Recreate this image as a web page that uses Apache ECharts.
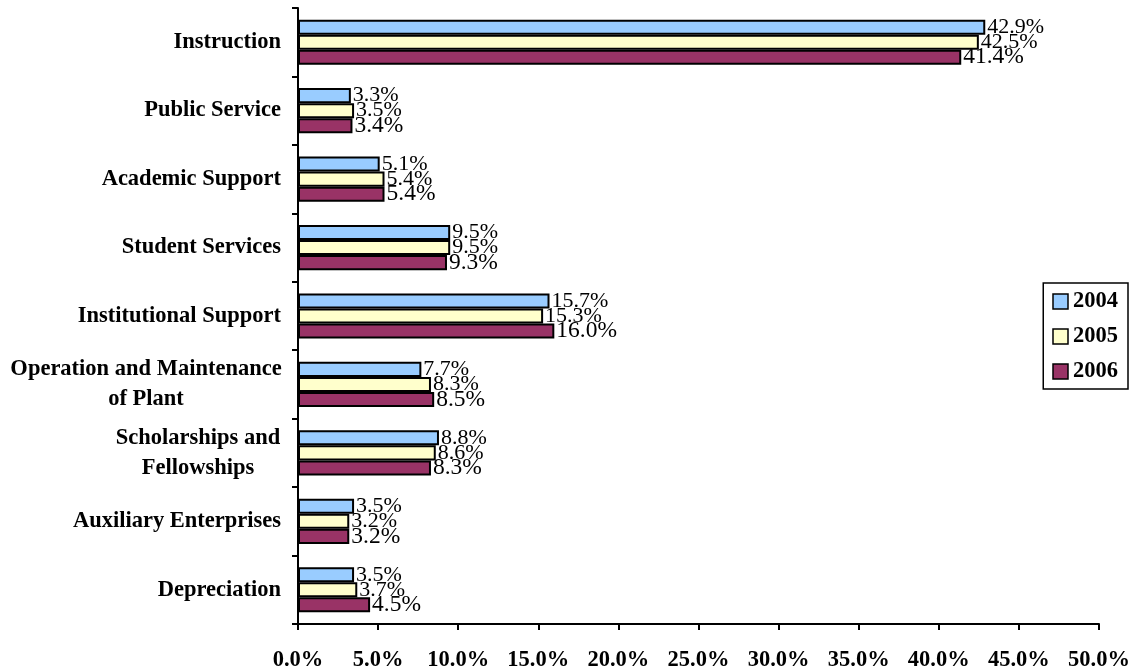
<!DOCTYPE html>
<html><head><meta charset="utf-8">
<script src="https://cdn.jsdelivr.net/npm/echarts@6/dist/echarts.min.js"></script>
<style>html,body{margin:0;padding:0;background:#fff}#c{width:1134px;height:672px}</style>
</head><body><div id="c"></div>
<script>
const categories = ['Instruction','Public Service','Academic Support','Student Services','Institutional Support','Operation and Maintenance\nof Plant','Scholarships and\nFellowships','Auxiliary Enterprises','Depreciation'];
const years = ['2004','2005','2006'];
const v2004 = [42.9, 3.3, 5.1, 9.5, 15.7, 7.7, 8.8, 3.5, 3.5];
const v2005 = [42.5, 3.5, 5.4, 9.5, 15.3, 8.3, 8.6, 3.2, 3.7];
const v2006 = [41.4, 3.4, 5.4, 9.3, 16.0, 8.5, 8.3, 3.2, 4.5];
const xTicks = [0,5,10,15,20,25,30,35,40,45,50];

const colors = ['#99CCFF','#FFFFCC','#993366'];
const serif = '"Liberation Serif","Times New Roman",serif';
const labelSizes = [22,22,23.5];
const catSize = 22.5;

function mk(name, data, i){
  return {
    name, type:'bar', data,
    barGap:'0%', barCategoryGap:'34%',
    itemStyle:{color:colors[i], borderColor:'#000', borderWidth:2},
    label:{show:true, position:'right', distance:2, color:'#000', fontFamily:serif, fontSize:labelSizes[i],
      formatter:p=>p.value.toFixed(1)+'%'},
    emphasis:{disabled:true}
  };
}

const chart = echarts.init(document.getElementById('c'));
chart.setOption({
  animation:false,
  grid:{left:298, right:35, top:8, bottom:47, containLabel:false},
  legend:{
    orient:'vertical', right:6, top:283, data:years,
    backgroundColor:'#fff', borderColor:'#000', borderWidth:1.5,
    padding:[7,10,6,9], itemGap:12, itemWidth:15, itemHeight:15,
    icon:'rect',
    itemStyle:{borderColor:'#000', borderWidth:1.5},
    textStyle:{fontFamily:serif, fontWeight:'bold', fontSize:22.5, color:'#000'}
  },
  xAxis:{
    type:'value', min:0, max:50, interval:5,
    axisLine:{show:true, lineStyle:{color:'#000', width:2}},
    axisTick:{show:true, length:6, lineStyle:{color:'#000', width:2}},
    splitLine:{show:false},
    axisLabel:{margin:25, fontFamily:serif, fontWeight:'bold', fontSize:22.5, color:'#000',
      formatter:v=>v.toFixed(1)+'%'}
  },
  yAxis:{
    type:'category', data:categories, inverse:true,
    axisLine:{show:true, lineStyle:{color:'#000', width:2}},
    axisTick:{show:true, length:6, inside:false, lineStyle:{color:'#000', width:2}},
    axisLabel:{margin:17, fontFamily:serif, fontWeight:'bold', fontSize:catSize, color:'#000', lineHeight:30,
      formatter:function(v){
        if(v.indexOf('\n')<0) return v;
        const parts=v.split('\n');
        const w = v.indexOf('Operation')===0 ? 'a' : 'b';
        return parts.map(p=>'{'+w+'|'+p+'}').join('\n');
      },
      rich:{
        a:{width:270, align:'center', fontFamily:serif, fontWeight:'bold', fontSize:catSize, lineHeight:30, color:'#000'},
        b:{width:166, align:'center', fontFamily:serif, fontWeight:'bold', fontSize:catSize, lineHeight:30, color:'#000'}
      }
    }
  },
  series:[mk('2004',v2004,0), mk('2005',v2005,1), mk('2006',v2006,2)]
});
</script></body></html>
